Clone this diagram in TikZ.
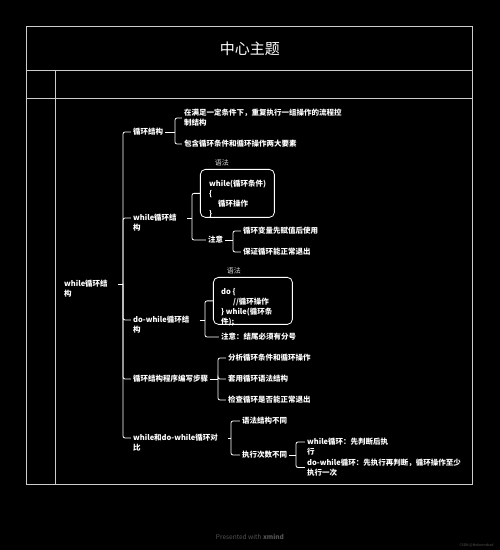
\documentclass[tikz,border=0pt]{standalone}
\usepackage{fontspec}
\setmainfont{Noto Sans CJK SC}
\usetikzlibrary{calc}
\definecolor{footgray}{RGB}{85,85,85}

\begin{document}
\begin{tikzpicture}[x=1pt, y=-1pt, font=\fontsize{7.5}{10}\selectfont\bfseries]
  \tikzset{
    topic/.style={anchor=west, inner xsep=2pt, inner ysep=1pt, text=white, align=left},
    twoline/.style={topic, anchor=north west},
    link/.style={draw=white, line width=0.8pt, rounded corners=2pt},
    frame/.style={draw=gray!40!white, line width=1pt},
    codebox/.style={draw=white, line width=0.8pt, rounded corners=5pt, inner sep=0pt, anchor=north west},
    codetext/.style={topic, anchor=north west},
    tag/.style={text=gray!30!white, font=\fontsize{7}{8}\selectfont\mdseries, inner sep=0pt}
  }
  \fill[black] (0,0) rectangle (500,550);

  % frame
  \draw[frame] (27,27) rectangle (473,485);
  \draw[frame] (27,71) -- (473,71);
  \draw[frame] (27,99) -- (473,99);
  \draw[frame] (56,71) -- (56,485);
  \node[text=white, font=\fontsize{15}{18}\selectfont\mdseries] (title) at (250,49) {中心主题};

  % junctions
  \coordinate (j0) at (123,284);
  \coordinate (j1) at (175,132);
  \coordinate (j2) at (192,218);
  \coordinate (j3) at (233,240);
  \coordinate (j4) at (205,320);
  \coordinate (j5) at (218,379);
  \coordinate (j6) at (231,438);
  \coordinate (j7) at (296,455);

  % root and first level
  \node[twoline] (root) at (62,279.3) {while循环结\\构};
  \node[topic] (loop) at (131,132) {循环结构};
  \node[twoline] (wh) at (131,213.3) {while循环结\\构};
  \node[twoline] (dw) at (131,315.3) {do-while循环结\\构};
  \node[topic] (steps) at (131,379) {循环结构程序编写步骤};
  \node[twoline] (cmp) at (131,433.3) {while和do-while循环对\\比};
  \draw[link] ([xshift=8pt]root.east |- j0) -- (j0);
  \draw[link] (j0) |- (loop.west);
  \draw[link] (j0) |- (wh.west |- j2);
  \draw[link] (j0) |- (dw.west |- j4);
  \draw[link] (j0) |- (steps.west);
  \draw[link] (j0) |- (cmp.west |- j6);

  % loop structure
  \node[topic] (def) at (182,118) {在满足一定条件下，重复执行一组操作的流程控\\制结构};
  \node[topic] (elem) at (182,144) {包含循环条件和循环操作两大要素};
  \draw[link] (loop.east) -- (j1);
  \draw[link] (j1) |- (def.west);
  \draw[link] (j1) |- (elem.west);

  % while
  \node[codebox, minimum width=74pt, minimum height=48pt] (whbox) at (200,169) {};
  \node[codetext] (whcode) at (207,179.3) {while(循环条件)\\\{\\\hspace*{9pt}循环操作\\\}};
  \node[tag] (whtag) at (222,163) {语法};
  \node[topic] (whnote) at (206,240) {注意};
  \draw[link] ([xshift=8pt]wh.east |- j2) -- (j2);
  \draw[link] (j2) |- (whbox.west);
  \draw[link] (j2) |- (whnote.west);
  \node[topic] (init) at (241,231) {循环变量先赋值后使用};
  \node[topic] (exit) at (241,252) {保证循环能正常退出};
  \draw[link] (whnote.east) -- (j3);
  \draw[link] (j3) |- (init.west);
  \draw[link] (j3) |- (exit.west);

  % do-while
  \node[codebox, minimum width=79pt, minimum height=47pt] (dwbox) at (213,277) {};
  \node[codetext] (dwcode) at (219,287.3) {do \{\\\hspace*{12pt}//循环操作\\\} while(循环条\\件);};
  \node[tag] (dwtag) at (234,271) {语法};
  \node[topic] (semi) at (219,337) {注意：结尾必须有分号};
  \draw[link] ([xshift=8pt]dw.east |- j4) -- (j4);
  \draw[link] (j4) |- (dwbox.west);
  \draw[link] (j4) |- (semi.west);

  % steps
  \node[topic] (s1) at (226,358) {分析循环条件和循环操作};
  \node[topic] (s2) at (226,379) {套用循环语法结构};
  \node[topic] (s3) at (226,400) {检查循环是否能正常退出};
  \draw[link] (steps.east) -- (j5);
  \draw[link] (j5) |- (s1.west);
  \draw[link] (j5) |- (s2.west);
  \draw[link] (j5) |- (s3.west);

  % comparison
  \node[topic] (syn) at (240,421) {语法结构不同};
  \node[topic] (cnt) at (240,455) {执行次数不同};
  \draw[link] ([xshift=8pt]cmp.east |- j6) -- (j6);
  \draw[link] (j6) |- (syn.west);
  \draw[link] (j6) |- (cnt.west);
  \node[twoline] (wcnt) at (305,437.3) {while循环：先判断后执\\行};
  \node[topic] (dcnt) at (305,467.5) {do-while循环：先执行再判断，循环操作至少\\执行一次};
  \draw[link] (cnt.east) -- (j7);
  \draw[link] (j7) |- ($(wcnt.north west)+(0,4.7)$);
  \draw[link] (j7) |- (dcnt.west);

  % footer
  \node[text=footgray, font=\fontsize{6.5}{8}\selectfont\mdseries] (credit) at (250,537) {Presented with \textbf{xmind}};
  \node[text=footgray, font=\fontsize{3.5}{4}\selectfont\mdseries, anchor=east] (src) at (497,545) {CSDN @Nekomrsbsd};
\end{tikzpicture}
\end{document}
